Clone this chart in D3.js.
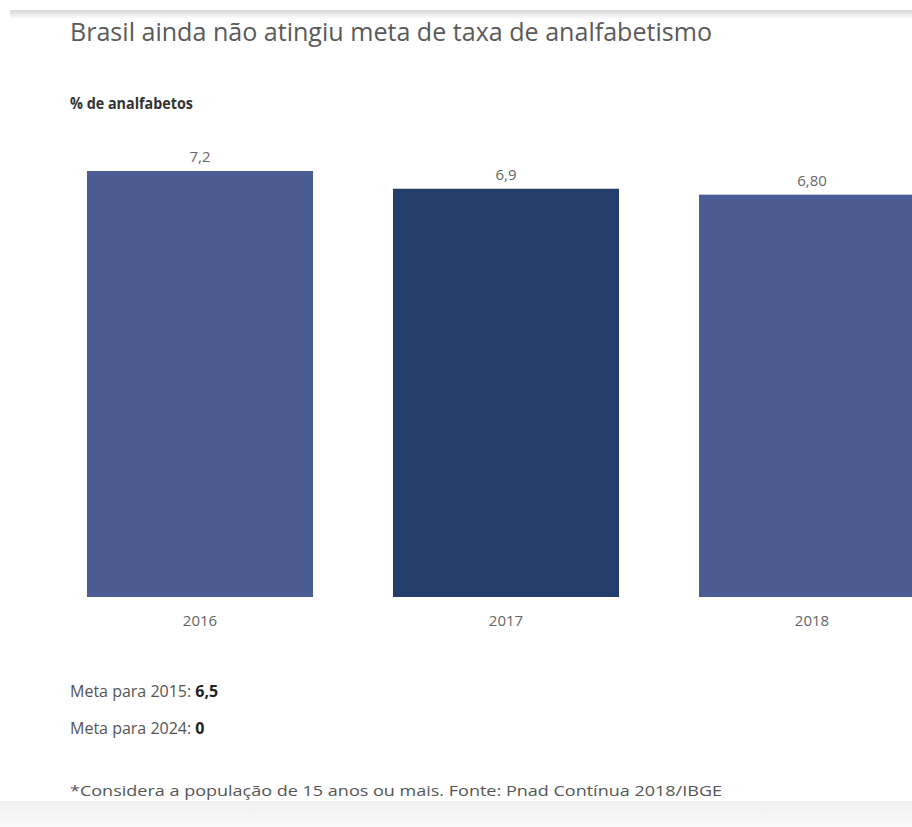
<!DOCTYPE html>
<meta charset="utf-8">
<style>
body { margin: 0; background: #fff; }
svg { display: block; font-family: "Open Sans", sans-serif; }
.value, .year { fill: #666; font-size: 15px; text-anchor: middle; }
.meta { fill: #555; font-size: 16px; }
.meta tspan.v { fill: #222; font-weight: bold; }
</style>
<body>
<svg width="912" height="827"></svg>
<script src="https://d3js.org/d3.v7.min.js"></script>
<script>

var years = ["2016", "2017", "2018"],
    values = [7.2, 6.9, 6.8],
    valueLabels = ["7,2", "6,9", "6,80"],
    barColors = ["#4a5c92", "#243e6c", "#4a5c92"];

var metaLabels = ["Meta para 2015: ", "Meta para 2024: "],
    metaValues = ["6,5", "0"];

var svg = d3.select("svg");

// top and bottom shading of the screenshot frame
var defs = svg.append("defs");
var gTop = defs.append("linearGradient").attr("id", "topShade")
    .attr("x1", 0).attr("y1", 0).attr("x2", 0).attr("y2", 1);
gTop.append("stop").attr("offset", "0%").attr("stop-color", "#d6d6d6");
gTop.append("stop").attr("offset", "100%").attr("stop-color", "#fff");
var gBot = defs.append("linearGradient").attr("id", "botShade")
    .attr("x1", 0).attr("y1", 0).attr("x2", 0).attr("y2", 1);
gBot.append("stop").attr("offset", "0%").attr("stop-color", "#f0f0f0");
gBot.append("stop").attr("offset", "100%").attr("stop-color", "#fafafa");

svg.append("rect").attr("x", 10).attr("y", 10).attr("width", 902).attr("height", 9)
    .attr("fill", "url(#topShade)");
svg.append("rect").attr("x", 0).attr("y", 801).attr("width", 912).attr("height", 26)
    .attr("fill", "url(#botShade)");

// titles
svg.append("text")
    .attr("x", 70).attr("y", 41)
    .attr("fill", "#5a5a5a")
    .style("font-size", "26px")
    .attr("textLength", 642).attr("lengthAdjust", "spacingAndGlyphs")
    .text("Brasil ainda não atingiu meta de taxa de analfabetismo");

svg.append("text")
    .attr("x", 70).attr("y", 109)
    .attr("fill", "#333")
    .style("font-size", "16px").style("font-weight", "bold")
    .attr("textLength", 123).attr("lengthAdjust", "spacingAndGlyphs")
    .text("% de analfabetos");

// scales
var x = d3.scaleBand()
    .domain(years)
    .range([87, 925])
    .paddingInner(80 / 306)
    .paddingOuter(0);

var y = d3.scaleLinear()
    .domain([0, 7.2])
    .range([597, 171]);

var g = svg.append("g");

g.selectAll(".bar")
    .data(values)
  .enter().append("rect")
    .attr("class", "bar")
    .attr("x", function(d, i) { return x(years[i]); })
    .attr("y", function(d) { return y(d); })
    .attr("width", x.bandwidth())
    .attr("height", function(d) { return y(0) - y(d); })
    .attr("fill", function(d, i) { return barColors[i]; });

g.selectAll(".value")
    .data(values)
  .enter().append("text")
    .attr("class", "value")
    .attr("x", function(d, i) { return x(years[i]) + x.bandwidth() / 2; })
    .attr("y", function(d) { return y(d) - 9; })
    .text(function(d, i) { return valueLabels[i]; });

g.selectAll(".year")
    .data(years)
  .enter().append("text")
    .attr("class", "year")
    .attr("x", function(d) { return x(d) + x.bandwidth() / 2; })
    .attr("y", 626)
    .text(function(d) { return d; });

// goals
var meta = svg.selectAll(".meta")
    .data(metaLabels)
  .enter().append("text")
    .attr("class", "meta")
    .attr("x", 70)
    .attr("y", function(d, i) { return 697 + i * 37; });
meta.append("tspan").text(function(d) { return d; });
meta.append("tspan").attr("class", "v").text(function(d, i) { return metaValues[i]; });

svg.append("text")
    .attr("x", 70).attr("y", 796)
    .attr("fill", "#555")
    .style("font-size", "14px")
    .attr("textLength", 652).attr("lengthAdjust", "spacingAndGlyphs")
    .text("*Considera a população de 15 anos ou mais. Fonte: Pnad Contínua 2018/IBGE");

</script>
